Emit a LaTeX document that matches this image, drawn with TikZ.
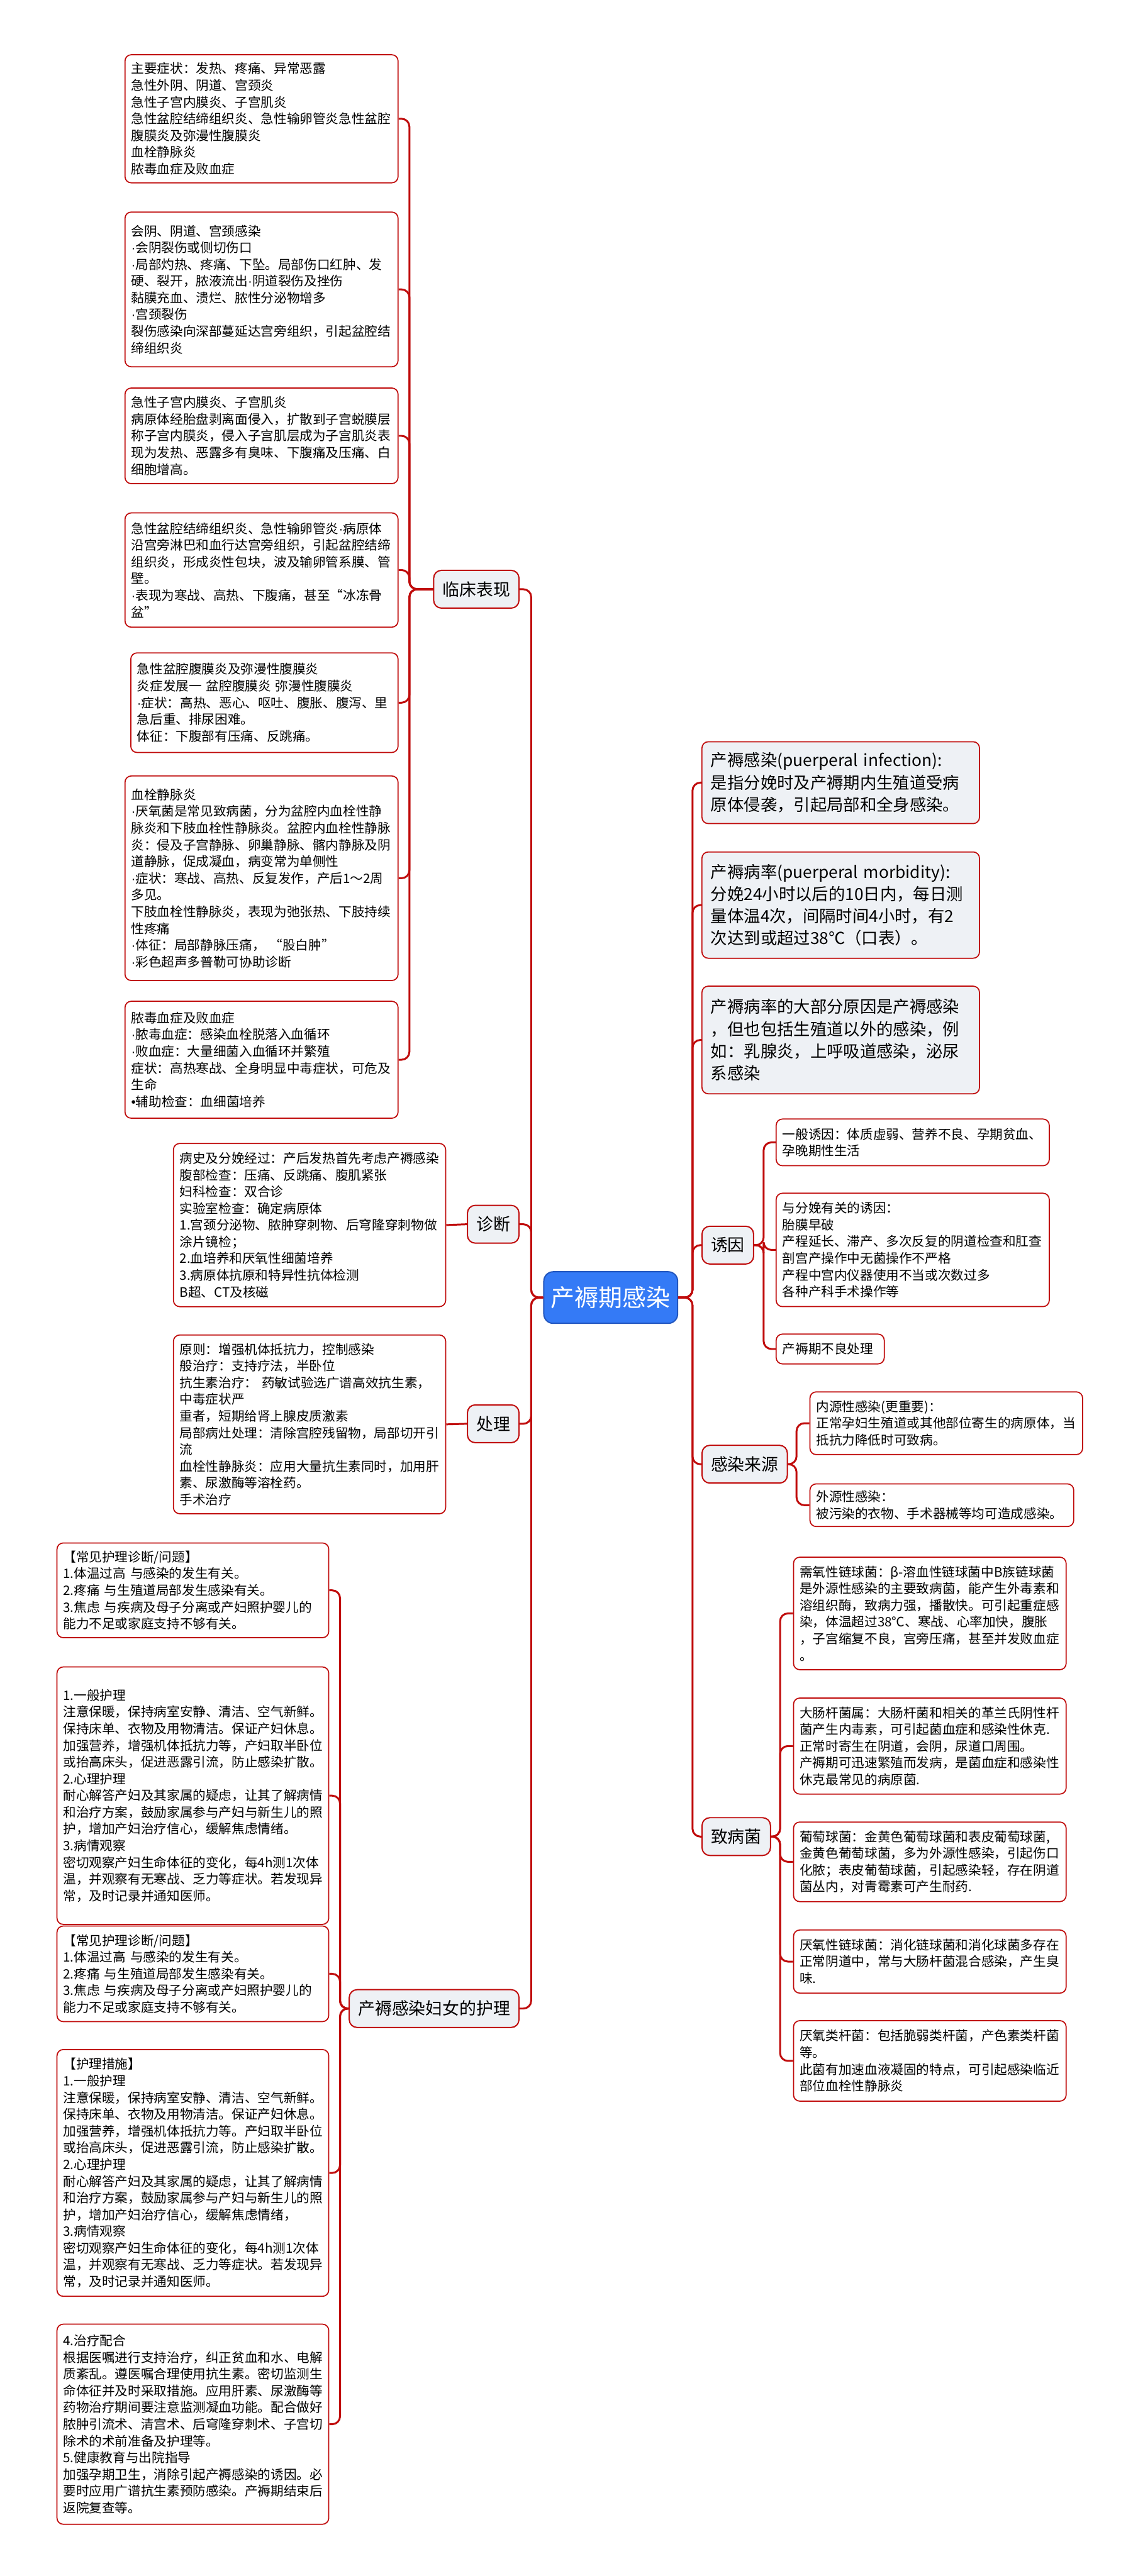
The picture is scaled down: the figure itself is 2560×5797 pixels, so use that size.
\documentclass[tikz,border=0pt]{standalone}
\usepackage{fontspec}
\setmainfont{Noto Sans CJK SC}
\newfontfamily\latinfont{Liberation Sans}
\newcommand\midpt{{\latinfont ·}}
\definecolor{linered}{RGB}{192,12,12}
\definecolor{nodegray}{RGB}{238,241,245}
\definecolor{rootblue}{RGB}{52,122,246}
\definecolor{rootedge}{RGB}{34,86,190}
\begin{document}
\begin{tikzpicture}[
    x=0.01cm, y=-0.01cm,
    leaf/.style={
      draw=linered, line width=0.7pt, rounded corners=4pt, fill=white,
      anchor=north west, align=left, inner xsep=0.14cm, inner ysep=0pt,
      font=\fontsize{8.3}{10.7}\selectfont
    },
    defbox/.style={leaf, fill=nodegray, inner xsep=0.2cm,
      font=\fontsize{10.6}{14.2}\selectfont},
    cat/.style={
      draw=linered, line width=0.8pt, rounded corners=5pt, fill=nodegray,
      minimum height=0.85cm, inner xsep=0.2cm,
      font=\fontsize{10.8}{13}\selectfont
    },
    root/.style={
      draw=rootedge, line width=0.8pt, fill=rootblue, text=white,
      rounded corners=6pt, minimum height=1.16cm, inner xsep=0.16cm,
      font=\fontsize{15.3}{18}\selectfont
    },
    branch/.style={draw=linered, line width=1.2pt, rounded corners=5pt}
  ]
    \fill[white] (0,0) rectangle (2560,5797);
    \useasboundingbox (0,0) rectangle (2560,5797);

    % centre
    \node[root] (root) at (1374,2920) {产褥期感染};
    \coordinate (lJ) at (1195,2920);
    \coordinate (rJ) at (1558,2920);

    % left side
    \node[cat, anchor=east] (clin) at (1169,1326) {临床表现};
    \node[cat, anchor=east] (diag) at (1169,2755) {诊断};
    \node[cat, anchor=east] (treat) at (1169,3204) {处理};
    \node[cat, anchor=east] (nurse) at (1169,4520) {产褥感染妇女的护理};

    \node[leaf, text width=5.86cm, minimum height=2.88cm] (c1) at (280,122) {%
      主要症状：发热、疼痛、异常恶露\\
      急性外阴、阴道、宫颈炎\\
      急性子宫内膜炎、子宫肌炎\\
      急性盆腔结缔组织炎、急性输卵管炎急性盆腔\\
      腹膜炎及弥漫性腹膜炎\\
      血栓静脉炎\\
      脓毒血症及败血症};
    \node[leaf, text width=5.86cm, minimum height=3.48cm] (c2) at (280,476) {%
      会阴、阴道、宫颈感染\\
      \midpt 会阴裂伤或侧切伤口\\
      \midpt 局部灼热、疼痛、下坠。局部伤口红肿、发\\
      硬、裂开，脓液流出\midpt 阴道裂伤及挫伤\\
      黏膜充血、溃烂、脓性分泌物增多\\
      \midpt 宫颈裂伤\\
      裂伤感染向深部蔓延达宫旁组织，引起盆腔结\\
      缔组织炎};
    \node[leaf, text width=5.86cm, minimum height=2.15cm] (c3) at (280,872) {%
      急性子宫内膜炎、子宫肌炎\\
      病原体经胎盘剥离面侵入，扩散到子宫蜕膜层\\
      称子宫内膜炎，侵入子宫肌层成为子宫肌炎表\\
      现为发热、恶露多有臭味、下腹痛及压痛、白\\
      细胞增高。};
    \node[leaf, text width=5.86cm, minimum height=2.57cm] (c4) at (280,1153) {%
      急性盆腔结缔组织炎、急性输卵管炎\midpt 病原体\\
      沿宫旁淋巴和血行达宫旁组织，引起盆腔结缔\\
      组织炎，形成炎性包块，波及输卵管系膜、管\\
      壁。\\
      \midpt 表现为寒战、高热、下腹痛，甚至“冰冻骨\\
      盆”};
    \node[leaf, text width=5.73cm, minimum height=2.24cm] (c5) at (293,1468) {%
      急性盆腔腹膜炎及弥漫性腹膜炎\\
      炎症发展一 盆腔腹膜炎 弥漫性腹膜炎\\
      \midpt 症状：高热、恶心、呕吐、腹胀、腹泻、里\\
      急后重、排尿困难。\\
      体征：下腹部有压痛、反跳痛。};
    \node[leaf, text width=5.86cm, minimum height=4.60cm] (c6) at (280,1745) {%
      血栓静脉炎\\
      \midpt 厌氧菌是常见致病菌，分为盆腔内血栓性静\\
      脉炎和下肢血栓性静脉炎。盆腔内血栓性静脉\\
      炎：侵及子宫静脉、卵巢静脉、髂内静脉及阴\\
      道静脉，促成凝血，病变常为单侧性\\
      \midpt 症状：寒战、高热、反复发作，产后1～2周\\
      多见。\\
      下肢血栓性静脉炎，表现为弛张热、下肢持续\\
      性疼痛\\
      \midpt 体征：局部静脉压痛， “股白肿”\\
      \midpt 彩色超声多普勒可协助诊断};
    \node[leaf, text width=5.86cm, minimum height=2.63cm] (c7) at (280,2252) {%
      脓毒血症及败血症\\
      \midpt 脓毒血症：感染血栓脱落入血循环\\
      \midpt 败血症：大量细菌入血循环并繁殖\\
      症状：高热寒战、全身明显中毒症状，可危及\\
      生命\\
      {\latinfont •}辅助检查：血细菌培养};

    \node[leaf, text width=5.84cm, minimum height=3.67cm] (diagbox) at (389,2572) {%
      病史及分娩经过：产后发热首先考虑产褥感染\\
      腹部检查：压痛、反跳痛、腹肌紧张\\
      妇科检查：双合诊\\
      实验室检查：确定病原体\\
      1.宫颈分泌物、脓肿穿刺物、后穹隆穿刺物做\\
      涂片镜检；\\
      2.血培养和厌氧性细菌培养\\
      3.病原体抗原和特异性抗体检测\\
      B超、CT及核磁};
    \node[leaf, text width=5.84cm, minimum height=4.02cm] (treatbox) at (389,3003) {%
      原则：增强机体抵抗力，控制感染\\
      般治疗：支持疗法，半卧位\\
      抗生素治疗： 药敏试验选广谱高效抗生素，\\
      中毒症状严\\
      重者，短期给肾上腺皮质激素\\
      局部病灶处理：清除宫腔残留物，局部切开引\\
      流\\
      血栓性静脉炎：应用大量抗生素同时，加用肝\\
      素、尿激酶等溶栓药。\\
      手术治疗};

    \node[leaf, text width=5.83cm, minimum height=2.13cm] (n1) at (127,3471) {%
      【常见护理诊断/问题】\\
      1.体温过高 与感染的发生有关。\\
      2.疼痛 与生殖道局部发生感染有关。\\
      3.焦虑 与疾病及母子分离或产妇照护婴儿的\\
      能力不足或家庭支持不够有关。};
    \node[leaf, text width=5.83cm, minimum height=5.79cm] (n2) at (127,3750) {%
      1.一般护理\\
      注意保暖，保持病室安静、清洁、空气新鲜。\\
      保持床单、衣物及用物清洁。保证产妇休息。\\
      加强营养，增强机体抵抗力等，产妇取半卧位\\
      或抬高床头，促进恶露引流，防止感染扩散。\\
      2.心理护理\\
      耐心解答产妇及其家属的疑虑，让其了解病情\\
      和治疗方案，鼓励家属参与产妇与新生儿的照\\
      护，增加产妇治疗信心，缓解焦虑情绪。\\
      3.病情观察\\
      密切观察产妇生命体征的变化，每4h测1次体\\
      温，并观察有无寒战、乏力等症状。若发现异\\
      常，及时记录并通知医师。};
    \node[leaf, text width=5.83cm, minimum height=2.15cm] (n3) at (127,4333) {%
      【常见护理诊断/问题】\\
      1.体温过高 与感染的发生有关。\\
      2.疼痛 与生殖道局部发生感染有关。\\
      3.焦虑 与疾病及母子分离或产妇照护婴儿的\\
      能力不足或家庭支持不够有关。};
    \node[leaf, text width=5.83cm, minimum height=5.55cm] (n4) at (127,4611) {%
      【护理措施】\\
      1.一般护理\\
      注意保暖，保持病室安静、清洁、空气新鲜。\\
      保持床单、衣物及用物清洁。保证产妇休息。\\
      加强营养，增强机体抵抗力等。产妇取半卧位\\
      或抬高床头，促进恶露引流，防止感染扩散。\\
      2.心理护理\\
      耐心解答产妇及其家属的疑虑，让其了解病情\\
      和治疗方案，鼓励家属参与产妇与新生儿的照\\
      护，增加产妇治疗信心，缓解焦虑情绪，\\
      3.病情观察\\
      密切观察产妇生命体征的变化，每4h测1次体\\
      温，并观察有无寒战、乏力等症状。若发现异\\
      常，及时记录并通知医师。};
    \node[leaf, text width=5.83cm, minimum height=4.50cm] (n5) at (127,5229) {%
      4.治疗配合\\
      根据医嘱进行支持治疗，纠正贫血和水、电解\\
      质紊乱。遵医嘱合理使用抗生素。密切监测生\\
      命体征并及时采取措施。应用肝素、尿激酶等\\
      药物治疗期间要注意监测凝血功能。配合做好\\
      脓肿引流术、清宫术、后穹隆穿刺术、子宫切\\
      除术的术前准备及护理等。\\
      5.健康教育与出院指导\\
      加强孕期卫生，消除引起产褥感染的诱因。必\\
      要时应用广谱抗生素预防感染。产褥期结束后\\
      返院复查等。};

    \coordinate (clinJ) at (921,1326);
    \coordinate (nurseJ) at (765,4520);

    % right side
    \node[defbox, text width=5.84cm, minimum height=1.84cm] (d1) at (1578,1668) {%
      产褥感染(puerperal infection):\\
      是指分娩时及产褥期内生殖道受病\\
      原体侵袭，引起局部和全身感染。};
    \node[defbox, text width=5.84cm, minimum height=2.39cm] (d2) at (1578,1916) {%
      产褥病率(puerperal morbidity):\\
      分娩24小时以后的10日内，每日测\\
      量体温4次，间隔时间4小时，有2\\
      次达到或超过38℃（口表）。};
    \node[defbox, text width=5.84cm, minimum height=2.42cm] (d3) at (1578,2218) {%
      产褥病率的大部分原因是产褥感染\\
      ，但也包括生殖道以外的感染，例\\
      如：乳腺炎，上呼吸道感染，泌尿\\
      系感染};

    \node[cat, anchor=west] (cause) at (1578,2802) {诱因};
    \node[cat, anchor=west] (source) at (1578,3295) {感染来源};
    \node[cat, anchor=west] (germ) at (1578,4133) {致病菌};

    \node[leaf, text width=5.86cm, minimum height=1.05cm] (y1) at (1745,2517) {%
      一般诱因：体质虚弱、营养不良、孕期贫血、\\
      孕晚期性生活};
    \node[leaf, text width=5.86cm, minimum height=2.55cm] (y2) at (1745,2684) {%
      与分娩有关的诱因：\\
      胎膜早破\\
      产程延长、滞产、多次反复的阴道检查和肛查\\
      剖宫产操作中无菌操作不严格\\
      产程中宫内仪器使用不当或次数过多\\
      各种产科手术操作等};
    \node[leaf, text width=2.15cm, minimum height=0.67cm] (y3) at (1745,3001) {%
      产褥期不良处理};

    \node[leaf, text width=5.85cm, minimum height=1.41cm] (s1) at (1821,3131) {%
      内源性感染(更重要)：\\
      正常孕妇生殖道或其他部位寄生的病原体，当\\
      抵抗力降低时可致病。};
    \node[leaf, text width=5.65cm, minimum height=0.96cm] (s2) at (1821,3338) {%
      外源性感染：\\
      被污染的衣物、手术器械等均可造成感染。};

    \node[leaf, text width=5.85cm, minimum height=2.53cm] (p1) at (1784,3503) {%
      需氧性链球菌：β-溶血性链球菌中B族链球菌\\
      是外源性感染的主要致病菌，能产生外毒素和\\
      溶组织酶，致病力强，播散快。可引起重症感\\
      染，体温超过38℃、寒战、心率加快，腹胀\\
      ，子宫缩复不良，宫旁压痛，甚至并发败血症\\
      。};
    \node[leaf, text width=5.85cm, minimum height=2.16cm] (p2) at (1784,3820) {%
      大肠杆菌属：大肠杆菌和相关的革兰氏阴性杆\\
      菌产生内毒素，可引起菌血症和感染性休克.\\
      正常时寄生在阴道，会阴，尿道口周围。\\
      产褥期可迅速繁殖而发病，是菌血症和感染性\\
      休克最常见的病原菌.};
    \node[leaf, text width=5.85cm, minimum height=1.79cm] (p3) at (1784,4099) {%
      葡萄球菌：金黄色葡萄球菌和表皮葡萄球菌,\\
      金黄色葡萄球菌，多为外源性感染，引起伤口\\
      化脓；表皮葡萄球菌，引起感染轻，存在阴道\\
      菌丛内，对青霉素可产生耐药.};
    \node[leaf, text width=5.85cm, minimum height=1.42cm] (p4) at (1784,4342) {%
      厌氧性链球菌：消化链球菌和消化球菌多存在\\
      正常阴道中，常与大肠杆菌混合感染，产生臭\\
      味.};
    \node[leaf, text width=5.85cm, minimum height=1.81cm] (p5) at (1784,4546) {%
      厌氧类杆菌：包括脆弱类杆菌，产色素类杆菌\\
      等。\\
      此菌有加速血液凝固的特点，可引起感染临近\\
      部位血栓性静脉炎};

    \coordinate (causeJ) at (1718,2802);
    \coordinate (sourceJ) at (1792,3295);
    \coordinate (germJ) at (1755,4133);

    % connectors
    \draw[branch] (root.west) -- (lJ) |- (clin.east);
    \draw[branch] (root.west) -- (lJ) |- (diag.east);
    \draw[branch] (root.west) -- (lJ) |- (treat.east);
    \draw[branch] (root.west) -- (lJ) |- (nurse.east);
    \draw[branch] (root.east) -- (rJ) |- (d1.west);
    \draw[branch] (root.east) -- (rJ) |- (d2.west);
    \draw[branch] (root.east) -- (rJ) |- (d3.west);
    \draw[branch] (root.east) -- (rJ) |- (cause.west);
    \draw[branch] (root.east) -- (rJ) |- (source.west);
    \draw[branch] (root.east) -- (rJ) |- (germ.west);

    \draw[branch] (clin.west) -- (clinJ) |- (c1.east);
    \draw[branch] (clin.west) -- (clinJ) |- (c2.east);
    \draw[branch] (clin.west) -- (clinJ) |- (c3.east);
    \draw[branch] (clin.west) -- (clinJ) |- (c4.east);
    \draw[branch] (clin.west) -- (clinJ) |- (c5.east);
    \draw[branch] (clin.west) -- (clinJ) |- (c6.east);
    \draw[branch] (clin.west) -- (clinJ) |- (c7.east);
    \draw[branch] (diag.west) -- (diagbox.east);
    \draw[branch] (treat.west) -- (treatbox.east);
    \draw[branch] (nurse.west) -- (nurseJ) |- (n1.east);
    \draw[branch] (nurse.west) -- (nurseJ) |- (n2.east);
    \draw[branch] (nurse.west) -- (nurseJ) |- (n3.east);
    \draw[branch] (nurse.west) -- (nurseJ) |- (n4.east);
    \draw[branch] (nurse.west) -- (nurseJ) |- (n5.east);

    \draw[branch] (cause.east) -- (causeJ) |- (y1.west);
    \draw[branch] (cause.east) -- (causeJ) |- (y2.west);
    \draw[branch] (cause.east) -- (causeJ) |- (y3.west);
    \draw[branch] (source.east) -- (sourceJ) |- (s1.west);
    \draw[branch] (source.east) -- (sourceJ) |- (s2.west);
    \draw[branch] (germ.east) -- (germJ) |- (p1.west);
    \draw[branch] (germ.east) -- (germJ) |- (p2.west);
    \draw[branch] (germ.east) -- (germJ) |- (p3.west);
    \draw[branch] (germ.east) -- (germJ) |- (p4.west);
    \draw[branch] (germ.east) -- (germJ) |- (p5.west);
  \end{tikzpicture}
\end{document}
